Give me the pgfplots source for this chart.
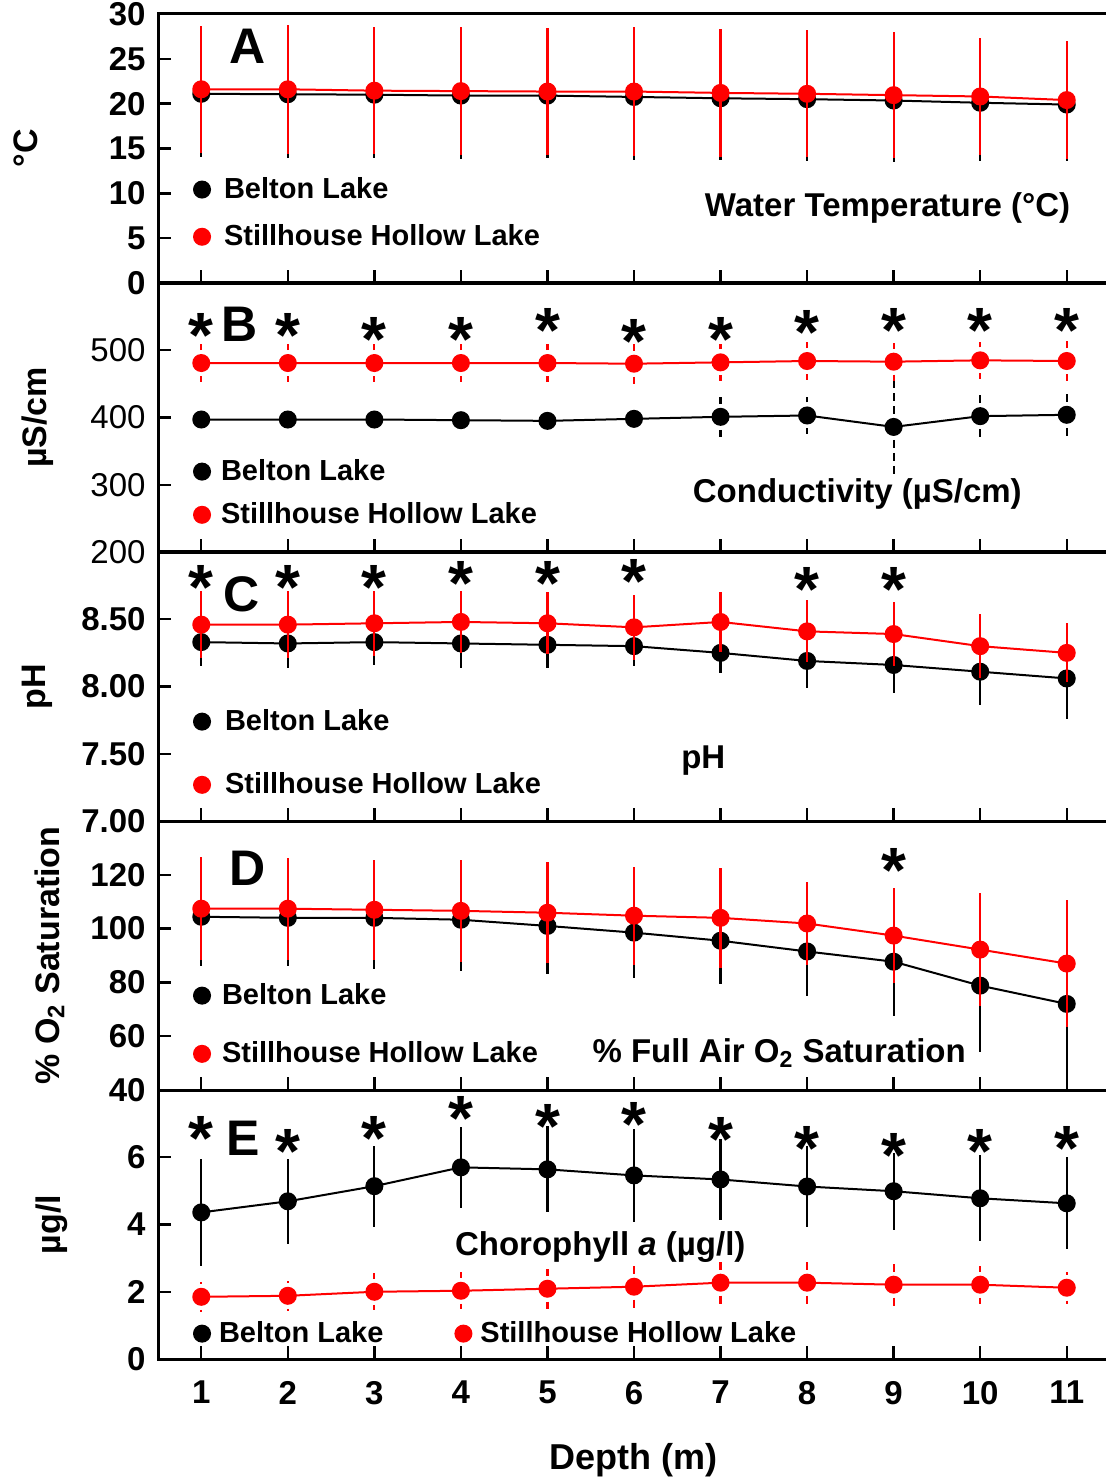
\documentclass[border=0pt]{standalone}
\usepackage{pgfplots}
\usepackage{pgfplotstable}
\pgfplotsset{compat=1.18}
\usepackage{fontspec}
\setmainfont{Liberation Sans}
\newcommand{\fs}[1]{\fontsize{#1}{#1}\selectfont}

% depth (m), Belton Lake mean and SD, Stillhouse Hollow Lake mean and SD
\pgfplotstableread{
d  b      be    s      se
1  21.10  7.1   21.60  7.1
2  21.05  7.1   21.60  7.2
3  21.00  7.1   21.45  7.1
4  20.90  7.1   21.40  7.1
5  20.90  7.0   21.35  7.1
6  20.75  7.0   21.35  7.2
7  20.60  6.9   21.20  7.1
8  20.50  6.9   21.10  7.1
9  20.35  6.9   20.95  7.0
10 20.10  6.5   20.80  6.5
11 19.90  6.3   20.40  6.6
}\tabT
\pgfplotstableread{
d  b    be   s    se
1  397  18   481  28
2  397  18   481  28
3  397  18   481  28
4  396  18   481  28
5  395  19   481  28
6  398  18   480  30
7  401  30   482  28
8  403  28   484  28
9  386  77   483  28
10 402  31   485  28
11 404  31   484  30
}\tabK
\pgfplotstableread{
d  b     be    s     se
1  8.33  0.18  8.46  0.25
2  8.32  0.18  8.46  0.25
3  8.33  0.17  8.47  0.24
4  8.32  0.18  8.48  0.23
5  8.31  0.17  8.47  0.23
6  8.30  0.15  8.44  0.24
7  8.25  0.15  8.48  0.22
8  8.19  0.20  8.41  0.23
9  8.16  0.21  8.39  0.24
10 8.11  0.25  8.30  0.24
11 8.06  0.30  8.25  0.22
}\tabP
\pgfplotstableread{
d  b      be    s      se
1  104.4  18.4  107.4  19.2
2  104.0  18.0  107.4  19.0
3  104.0  19.0  107.0  18.5
4  103.3  19.0  106.6  19.0
5  101.0  18.0  105.9  18.8
6  98.5   17.0  104.8  18.2
7  95.5   16.2  104.0  18.6
8  91.5   16.7  101.9  15.5
9  87.7   20.3  97.4   17.6
10 78.8   24.8  92.2   21.0
11 72.0   33.0  87.0   23.7
}\tabO
\pgfplotstableread{
d  b     be    s     se
1  4.36  1.60  1.85  0.45
2  4.69  1.27  1.88  0.45
3  5.14  1.20  2.00  0.55
4  5.70  1.20  2.03  0.55
5  5.64  1.28  2.09  0.60
6  5.46  1.38  2.15  0.64
7  5.34  1.20  2.27  0.70
8  5.13  1.20  2.27  0.67
9  4.99  1.15  2.21  0.63
10 4.78  1.28  2.21  0.57
11 4.63  1.37  2.12  0.47
}\tabC

\tikzset{
  letter/.style={anchor=base, font=\bfseries\fs{25}},
  title/.style={anchor=base, font=\bfseries\fs{16.5}},
}
\pgfplotsset{
  panel/.style={
    scale only axis, width=476pt, height=134.5pt,
    xmin=0.5, xmax=11.5, xtick={1,...,11},
    axis line style={line width=1.5pt},
    every tick/.style={black, line width=1.2pt},
    major tick length=6.5pt,
    tick align=inside,
    xtick pos=bottom, ytick pos=left,
    /pgf/number format/assume math mode=true,
    tick label style={font=\bfseries\fs{16.5}},
    yticklabel style={xshift=-2.7pt},
    clip mode=individual,
    every axis y label/.style={rotate=90, anchor=center, font=\bfseries\fs{17}},
    legend cell align=left,
    legend image code/.code={\fill (4pt,0pt) circle (4pt);},
    legend style={draw=none, fill=none, inner sep=0pt, outer sep=0pt,
      anchor=north west, font=\bfseries\fs{14.5}, nodes={inner sep=0pt}},
  },
  belton/.style={black, line width=1pt, mark=*, mark size=4pt,
    mark options={solid},
    error bars/y dir=both, error bars/y explicit,
    error bars/error mark=none,
    error bars/error bar style={line width=1.1pt, black, solid}},
  still/.style={red, line width=1pt, mark=*, mark size=4pt,
    mark options={solid},
    error bars/y dir=both, error bars/y explicit,
    error bars/error mark=none,
    error bars/error bar style={line width=1.1pt, red, solid}},
  dashbar/.style={error bars/error bar style={dash pattern=on 4pt off 2.5pt}},
  stars/.style={only marks, mark=text, text mark={*}, text mark as node=true,
    text mark style={font=\bfseries\fs{32}, inner sep=0pt, yshift=-4.8pt},
    black, forget plot},
}

\begin{document}
\begin{tikzpicture}

% A: water temperature
\begin{axis}[panel, at={(79pt,-7pt)}, anchor=north west,
  ymin=0, ymax=30, ytick={0,5,...,30}, xticklabel=\empty,
  ylabel={°C}, ylabel style={at={(axis description cs:-0.1387,0.5)}},
  legend style={at={(axis description cs:0.0368,0.392)}, row sep=11.6pt,
    /tikz/every odd column/.append style={column sep=6.5pt}}]
\addplot[belton] table[x=d, y=b, y error=be] {\tabT};
\addlegendentry{Belton Lake}
\addplot[still] table[x=d, y=s, y error=se] {\tabT};
\addlegendentry{Stillhouse Hollow Lake}
\node[letter] at (axis cs:1.54,24.5) {A};
\node[title] at (axis cs:8.93,7.39) {Water Temperature (°C)};
\end{axis}

% B: conductivity
\begin{axis}[panel, at={(79pt,-141.5pt)}, anchor=north west,
  ymin=200, ymax=600, ytick={200,300,400,500}, xticklabel=\empty,
  tick label style={font=\fs{16.5}},
  ylabel={µS/cm}, ylabel style={at={(axis description cs:-0.1266,0.5)}},
  legend style={at={(axis description cs:0.0368,0.3435)}, row sep=9.6pt,
    /tikz/every odd column/.append style={column sep=5pt}}]
\addplot[belton, dashbar] table[x=d, y=b, y error=be] {\tabK};
\addlegendentry{Belton Lake}
\addplot[still, dashbar] table[x=d, y=s, y error=se] {\tabK};
\addlegendentry{Stillhouse Hollow Lake}
\addplot[stars] coordinates {(1,536) (2,536) (3,531) (4,531) (5,543) (6,528)
  (7,531) (8,540) (9,543) (10,543) (11,543)};
\node[letter] at (axis cs:1.44,513) {B};
\node[title] at (axis cs:8.58,273) {Conductivity (µS/cm)};
\end{axis}

% C: pH
\begin{axis}[panel, at={(79pt,-276pt)}, anchor=north west,
  ymin=7, ymax=9, ytick={7,7.5,8,8.5}, xticklabel=\empty,
  yticklabel style={/pgf/number format/.cd, fixed, fixed zerofill, precision=2},
  ylabel={pH}, ylabel style={at={(axis description cs:-0.1271,0.5)}},
  legend style={at={(axis description cs:0.0368,0.4141)}, row sep=19.6pt,
    /tikz/every odd column/.append style={column sep=7pt}}]
\addplot[belton] table[x=d, y=b, y error=be] {\tabP};
\addlegendentry{Belton Lake}
\addplot[still] table[x=d, y=s, y error=se] {\tabP};
\addlegendentry{Stillhouse Hollow Lake}
\addplot[stars] coordinates {(1,8.81) (2,8.81) (3,8.81) (4,8.84) (5,8.84)
  (6,8.85) (8,8.79) (9,8.79)};
\node[letter] at (axis cs:1.47,8.56) {C};
\node[title] at (axis cs:6.80,7.394) {pH};
\end{axis}

% D: oxygen saturation
\begin{axis}[panel, at={(79pt,-410.5pt)}, anchor=north west,
  ymin=40, ymax=140, ytick={40,60,...,120}, xticklabel=\empty,
  ylabel={\% O\textsubscript{2} Saturation},
  ylabel style={at={(axis description cs:-0.114,0.5)}},
  legend style={at={(axis description cs:0.0368,0.3955)}, row sep=17.1pt,
    /tikz/every odd column/.append style={column sep=5.5pt}}]
\addplot[belton] table[x=d, y=b, y error=be] {\tabO};
\addlegendentry{Belton Lake}
\addplot[still] table[x=d, y=s, y error=se] {\tabO};
\addlegendentry{Stillhouse Hollow Lake}
\addplot[stars] coordinates {(9,125)};
\node[letter] at (axis cs:1.54,116.0) {D};
\node[anchor=base west, font=\bfseries\fs{16.5}] at (axis cs:5.44,50.4)
  {\% Full Air O\textsubscript{2} Saturation};
\end{axis}

% E: chlorophyll a
\begin{axis}[panel, at={(79pt,-545pt)}, anchor=north west,
  ymin=0, ymax=8, ytick={0,2,4,6},
  xticklabel style={yshift=-7.5pt},
  xlabel={Depth (m)},
  xlabel style={at={(axis description cs:0.499,0)}, anchor=center,
    yshift=-50.5pt, font=\bfseries\fs{18}},
  ylabel={µg/l}, ylabel style={at={(axis description cs:-0.1113,0.5)}},
  legend columns=2,
  legend style={at={(axis description cs:0.0368,0.139)},
    /tikz/every odd column/.append style={column sep=4pt},
    /tikz/every even column/.append style={column sep=35.5pt}}]
\addplot[belton] table[x=d, y=b, y error=be] {\tabC};
\addlegendentry{Belton Lake}
\addplot[still, dashbar] table[x=d, y=s, y error=se] {\tabC};
\addlegendentry{Stillhouse Hollow Lake}
\addplot[stars] coordinates {(1,6.84) (2,6.45) (3,6.84) (4,7.43) (5,7.2)
  (6,7.25) (7,6.8) (8,6.55) (9,6.33) (10,6.45) (11,6.55)};
\node[letter] at (axis cs:1.48,6.05) {E};
\node[title] at (axis cs:5.61,3.07) {Chorophyll \textit{a} (µg/l)};
\end{axis}

\pgfresetboundingbox
\path[use as bounding box] (0pt,0pt) rectangle (553pt,-738.5pt);
\end{tikzpicture}
\end{document}
